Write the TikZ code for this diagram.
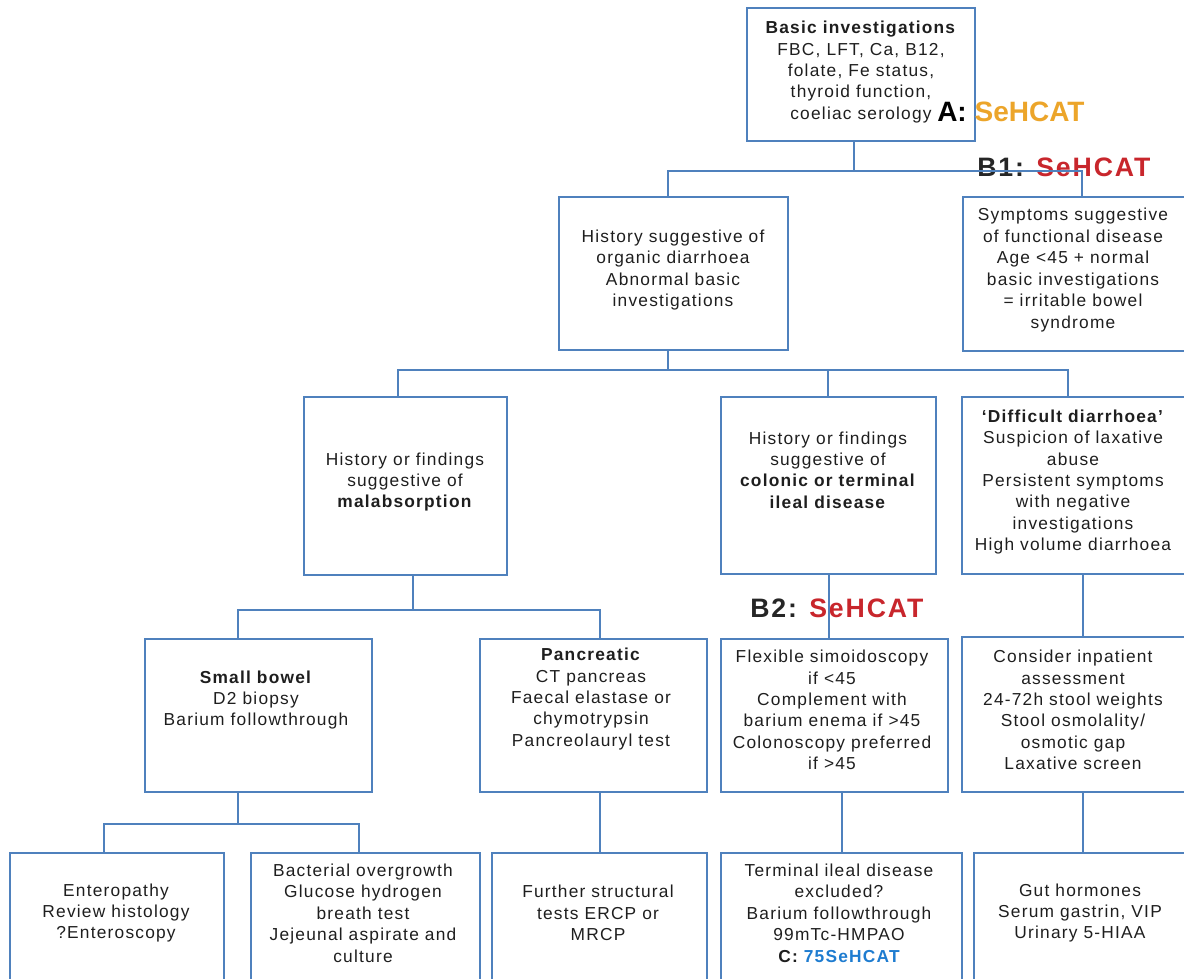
\documentclass[tikz,border=0pt]{standalone}
\usepackage{fontspec}
\setmainfont{Liberation Sans}[LetterSpace=7]
\newfontfamily\labfont{Liberation Sans}[LetterSpace=7]
\newfontfamily\afont{Liberation Sans}[LetterSpace=0]
\usetikzlibrary{fit}
\definecolor{boxblue}{RGB}{79,129,189}
\definecolor{textc}{RGB}{30,30,30}
\definecolor{sehred}{RGB}{200,38,44}
\definecolor{sehblue}{RGB}{30,124,208}
\definecolor{sehgold}{RGB}{236,165,42}
\begin{document}
\begin{tikzpicture}[x=0.75pt,y=-0.75pt,
  box/.style={draw=boxblue,line width=1.5pt,inner sep=0pt},
  conn/.style={draw=boxblue,line width=1.5pt},
  txt/.style={align=center,font=\fontsize{13}{16.1}\selectfont,text=textc,inner sep=0pt},
  lab/.style={anchor=west,inner sep=0pt,font=\labfont\bfseries\fontsize{20}{20}\selectfont}]
\useasboundingbox (0,0) rectangle (1184,978);
\clip (0,0) rectangle (1184,978);

% ---------- boxes ----------
\node[box,fit={(747,8) (975,141)}] (top) {};
\node[box,fit={(559,197) (788,350)}] (org) {};
\node[box,fit={(963,197) (1200,351)}] (func) {};
\node[box,fit={(304,397) (507,575)}] (mal) {};
\node[box,fit={(721,397) (936,574)}] (col) {};
\node[box,fit={(962,397) (1204,574)}] (dif) {};
\node[box,fit={(145,639) (372,792)}] (sb) {};
\node[box,fit={(480,639) (707,792)}] (pan) {};
\node[box,fit={(721,639) (948,792)}] (flex) {};
\node[box,fit={(962,637) (1204,792)}] (con) {};
\node[box,fit={(10,853) (224,1010)}] (ent) {};
\node[box,fit={(251,853) (480,1010)}] (bac) {};
\node[box,fit={(492,853) (707,1010)}] (fur) {};
\node[box,fit={(721,853) (962,1010)}] (term) {};
\node[box,fit={(974,853) (1204,1010)}] (gut) {};

% ---------- texts ----------
\node[txt] (topT) at (861,72) {\textbf{Basic investigations}\\FBC, LFT, Ca, B12,\\folate, Fe status,\\thyroid function,\\coeliac serology};
\node[txt] (orgT) at (673,270) {History suggestive of\\organic diarrhoea\\Abnormal basic\\investigations};
\node[txt] (funcT) at (1073,270) {Symptoms suggestive\\of functional disease\\Age <45 + normal\\basic investigations\\= irritable bowel\\syndrome};
\node[txt] (malT) at (405,482) {History or findings\\suggestive of\\\textbf{malabsorption}};
\node[txt] (colT) at (828,470) {History or findings\\suggestive of\\\textbf{colonic or terminal}\\\textbf{ileal disease}};
\node[txt] (difT) at (1073,482) {\textbf{‘Difficult diarrhoea’}\\Suspicion of laxative\\abuse\\Persistent symptoms\\with negative\\investigations\\High volume diarrhoea};
\node[txt] (sbT) at (256,700) {\textbf{Small bowel}\\D2 biopsy\\Barium followthrough};
\node[txt] (panT) at (591,699) {\textbf{Pancreatic}\\CT pancreas\\Faecal elastase or\\chymotrypsin\\Pancreolauryl test};
\node[txt] (flexT) at (832,710) {Flexible simoidoscopy\\if <45\\Complement with\\barium enema if >45\\Colonoscopy preferred\\if >45};
\node[txt] (conT) at (1073,710) {Consider inpatient\\assessment\\24-72h stool weights\\Stool osmolality/\\osmotic gap\\Laxative screen};
\node[txt] (entT) at (116,913) {Enteropathy\\Review histology\\?Enteroscopy};
\node[txt] (bacT) at (363,913) {Bacterial overgrowth\\Glucose hydrogen\\breath test\\Jejeunal aspirate and\\culture};
\node[txt] (furT) at (598,913) {Further structural\\tests ERCP or\\MRCP};
\node[txt] (termT) at (839,913) {Terminal ileal disease\\excluded?\\Barium followthrough\\99mTc-HMPAO\\\textbf{C: \textcolor{sehblue}{75SeHCAT}}};
\node[txt] (gutT) at (1080,913) {Gut hormones\\Serum gastrin, VIP\\Urinary 5-HIAA};

% ---------- SeHCAT labels ----------
\node[anchor=west,inner sep=0pt,font=\afont\bfseries\fontsize{21}{21}\selectfont] (labA) at (937,112) {\textcolor{black}{A:} \textcolor{sehgold}{SeHCAT}};
\node[lab] (labB1) at (977,167) {\textcolor{black!85}{B1:} \textcolor{sehred}{SeHCAT}};
\node[lab] (labB2) at (750,608) {\textcolor{black!85}{B2:} \textcolor{sehred}{SeHCAT}};

% ---------- connectors ----------
\coordinate (j0) at (854,171);
\coordinate (j0l) at (668,171);
\coordinate (j0r) at (1082,171);
\draw[conn] (j0 |- top.south) -- (j0);
\draw[conn] (j0l |- org.north) -- (j0l) -- (j0r) -- (j0r |- func.north);

\coordinate (j1) at (668,370);
\coordinate (j1l) at (398,370);
\coordinate (j1m) at (828,370);
\coordinate (j1r) at (1068,370);
\draw[conn] (j1 |- org.south) -- (j1);
\draw[conn] (j1l |- mal.north) -- (j1l) -- (j1r) -- (j1r |- dif.north);
\draw[conn] (j1m) -- (j1m |- col.north);

\coordinate (j2) at (413,610);
\coordinate (j2l) at (238,610);
\coordinate (j2r) at (600,610);
\draw[conn] (j2 |- mal.south) -- (j2);
\draw[conn] (j2l |- sb.north) -- (j2l) -- (j2r) -- (j2r |- pan.north);
\draw[conn] (col.south) -- (col.south |- flex.north);
\draw[conn] (dif.south) -- (dif.south |- con.north);

\coordinate (j3) at (238,824);
\coordinate (j3l) at (104,824);
\coordinate (j3r) at (359,824);
\coordinate (jp) at (600,824);
\coordinate (jf) at (842,824);
\draw[conn] (j3 |- sb.south) -- (j3);
\draw[conn] (j3l |- ent.north) -- (j3l) -- (j3r) -- (j3r |- bac.north);
\draw[conn] (jp |- pan.south) -- (jp |- fur.north);
\draw[conn] (jf |- flex.south) -- (jf |- term.north);
\draw[conn] (con.south) -- (con.south |- gut.north);
\end{tikzpicture}
\end{document}
